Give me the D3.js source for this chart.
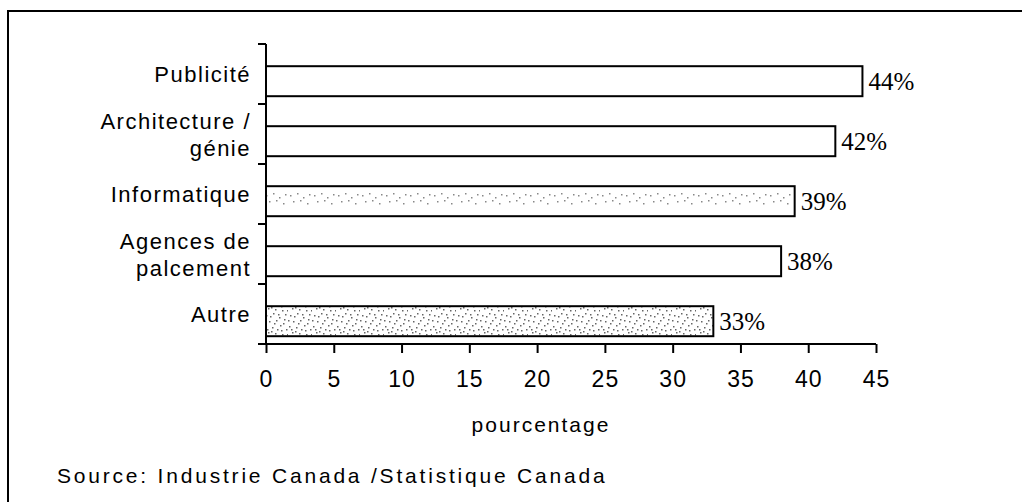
<!DOCTYPE html>
<html><head><meta charset="utf-8">
<script src="https://cdn.jsdelivr.net/npm/d3@7"></script>
<style>
html,body{margin:0;padding:0;background:#fff;}
svg{display:block;}
</style></head>
<body>
<svg id="chart" width="1022" height="502"></svg>
<script>
const categories = [["Publicité"], ["Architecture /", "génie"], ["Informatique"], ["Agences de", "palcement"], ["Autre"]];
const values = [44, 42, 39, 38, 33];
const fills = ["white", "white", "url(#dotsLight)", "white", "url(#dotsDense)"];
const xTicks = [0, 5, 10, 15, 20, 25, 30, 35, 40, 45];
const xTitle = "pourcentage";
const sourceText = "Source: Industrie Canada /Statistique Canada";

const svg = d3.select("#chart");
const defs = svg.append("defs");

function dotPattern(id, n, color) {
  const p = defs.append("pattern").attr("id", id).attr("patternUnits", "userSpaceOnUse")
    .attr("width", 24).attr("height", 24);
  // fixed, hand-placed dot layout (texture only)
  const pts = [[2,3],[9,1],[15,5],[21,2],[5,9],[12,8],[19,11],[1,14],[8,15],[16,13],[22,17],[4,20],[11,21],[18,22],[13,17],[6,4],[20,7],[3,17],[10,11],[23,22],[7,19],[14,2],[17,18],[0,8]];
  pts.slice(0, n).forEach(([x, y]) => {
    p.append("rect").attr("x", x).attr("y", y).attr("width", 1.5).attr("height", 1.5).attr("fill", color);
  });
}
dotPattern("dotsLight", 7, "#888");
dotPattern("dotsDense", 24, "#666");

// outer frame
svg.append("rect").attr("x", 8).attr("y", 11).attr("width", 1030).attr("height", 520)
  .attr("fill", "none").attr("stroke", "#000").attr("stroke-width", 2);

const x = d3.scaleLinear().domain([0, 45]).range([266, 876]);
const y = d3.scaleBand().domain(d3.range(categories.length)).range([44, 344]).padding(0);

const bw = y.bandwidth();
const barTop = i => y(i) + bw * 0.37;
const barH = bw * 0.5;
const barC = i => barTop(i) + barH / 2;

// bars
svg.append("g").selectAll("rect").data(values).join("rect")
  .attr("x", x(0))
  .attr("y", (d, i) => barTop(i))
  .attr("width", d => x(d) - x(0))
  .attr("height", barH)
  .attr("fill", (d, i) => fills[i])
  .attr("stroke", "#000").attr("stroke-width", 2);

// value labels
svg.append("g").selectAll("text").data(values).join("text")
  .attr("x", d => x(d) + 6)
  .attr("y", (d, i) => barC(i) + 9)
  .attr("font-family", "Liberation Serif, Times New Roman, serif")
  .attr("font-size", 25)
  .attr("fill", "#000")
  .text(d => d + "%");

// y axis line and ticks at band boundaries
const yAxisG = svg.append("g");
yAxisG.append("line").attr("x1", x(0)).attr("x2", x(0)).attr("y1", y.range()[0]).attr("y2", y.range()[1])
  .attr("stroke", "#000").attr("stroke-width", 2);
const bounds = d3.range(categories.length + 1).map(i => y.range()[0] + i * bw);
yAxisG.selectAll("line.t").data(bounds).join("line").attr("class", "t")
  .attr("x1", x(0) - 8).attr("x2", x(0)).attr("y1", d => d).attr("y2", d => d)
  .attr("stroke", "#000").attr("stroke-width", 2);

// category labels
const lh = 27;
svg.append("g").selectAll("text").data(categories).join("text")
  .attr("text-anchor", "end")
  .attr("font-family", "Liberation Sans, Arial, sans-serif")
  .attr("font-size", 22)
  .attr("letter-spacing", 1.5)
  .attr("fill", "#000")
  .each(function (lines, i) {
    const t = d3.select(this);
    const c = barC(i);
    lines.forEach((ln, k) => {
      const yy = lines.length === 1 ? c + 1 : c + 1 + (k === 0 ? -lh / 2 : lh / 2);
      t.append("tspan").attr("x", x(0) - 15).attr("y", yy).text(ln);
    });
  });

// x axis
const xAxis = d3.axisBottom(x).tickValues(xTicks).tickSize(9).tickPadding(12).tickFormat(d3.format("d"));
const xg = svg.append("g").attr("transform", `translate(0,${y.range()[1]})`).call(xAxis);
xg.select(".domain").attr("stroke", "#000").attr("stroke-width", 2).attr("d", `M${x(0)},0H${x(45)}`);
xg.selectAll(".tick line").attr("stroke", "#000").attr("stroke-width", 2);
xg.selectAll(".tick text")
  .attr("font-family", "Liberation Sans, Arial, sans-serif")
  .attr("font-size", 23).attr("fill", "#000").attr("dy", null).attr("y", 43)
  .attr("letter-spacing", 1);

// axis title
svg.append("text").attr("x", 541).attr("y", 432)
  .attr("text-anchor", "middle")
  .attr("font-family", "Liberation Sans, Arial, sans-serif")
  .attr("font-size", 21).attr("letter-spacing", 2).attr("fill", "#000")
  .text(xTitle);

// source
svg.append("text").attr("x", 57).attr("y", 483)
  .attr("font-family", "Liberation Sans, Arial, sans-serif")
  .attr("font-size", 21).attr("letter-spacing", 2.8).attr("fill", "#000")
  .text(sourceText);
</script>
</body></html>
